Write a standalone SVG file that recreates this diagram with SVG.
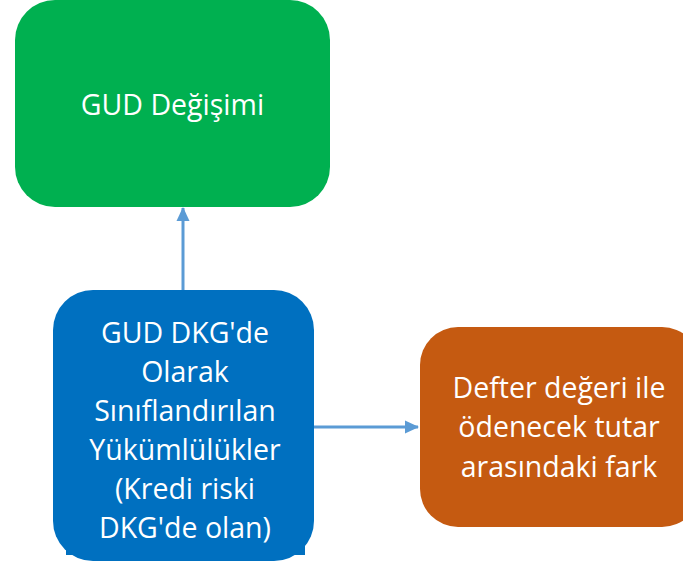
<svg xmlns="http://www.w3.org/2000/svg" width="683" height="563" viewBox="0 0 683 563">
<style>
.lbl{font-family:"Open Sans","Noto Sans",sans-serif;font-size:28.5px;fill:#ffffff;text-anchor:middle}
.conn{stroke:#5B9BD5;stroke-width:3;fill:none}
</style>
<defs>
<marker id="ah" markerWidth="14" markerHeight="14" refX="13" refY="7" orient="auto" markerUnits="userSpaceOnUse">
<path d="M0,0.5 L14,7 L0,13.5 Z" fill="#5B9BD5"/>
</marker>
</defs>
<rect width="683" height="563" fill="#ffffff"/>
<g id="node-gud-degisimi">
<rect x="15" y="0" width="315" height="207" rx="40" ry="40" fill="#00B050"/>
<text class="lbl" x="172.5" y="115">GUD Değişimi</text>
</g>
<g id="node-yukumlulukler">
<rect x="53" y="290" width="261" height="271" rx="40" ry="40" fill="#0070C0"/>
<rect x="66" y="500" width="239" height="55" fill="#0070C0"/>
<text class="lbl" x="185" y="343">GUD DKG'de</text>
<text class="lbl" x="185" y="382">Olarak</text>
<text class="lbl" x="185" y="421">Sınıflandırılan</text>
<text class="lbl" x="185" y="460">Yükümlülükler</text>
<text class="lbl" x="185" y="499">(Kredi riski</text>
<text class="lbl" x="185" y="538">DKG'de olan)</text>
</g>
<g id="node-fark">
<rect x="420" y="327" width="280" height="200" rx="38" ry="38" fill="#C55A11"/>
<text class="lbl" x="559" y="398">Defter değeri ile</text>
<text class="lbl" x="559" y="437">ödenecek tutar</text>
<text class="lbl" x="559" y="477">arasındaki fark</text>
</g>
<g id="connectors">
<line class="conn" x1="183" y1="290" x2="183" y2="208" marker-end="url(#ah)"/>
<line class="conn" x1="314" y1="427" x2="418" y2="427" marker-end="url(#ah)"/>
</g>
</svg>
